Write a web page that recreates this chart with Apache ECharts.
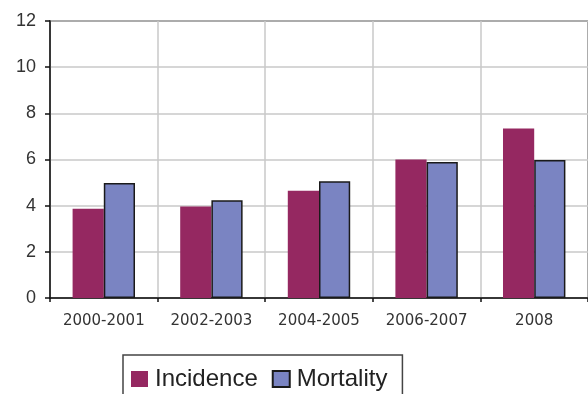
<!DOCTYPE html>
<html>
<head>
<meta charset="utf-8">
<script src="https://cdn.jsdelivr.net/npm/echarts@6/dist/echarts.min.js"></script>
<style>
html,body{margin:0;padding:0;background:#fff;}
#chart{width:588px;height:394px;}
</style>
</head>
<body>
<div id="chart"></div>
<script>
var categories = ['2000-2001', '2002-2003', '2004-2005', '2006-2007', '2008'];
var incidence = [3.87, 3.96, 4.65, 6.0, 7.34];
var mortality = [4.98, 4.23, 5.06, 5.89, 5.98];
var yTicks = { min: 0, max: 12, interval: 2 };

var chart = echarts.init(document.getElementById('chart'), null, { renderer: 'canvas' });
chart.setOption({
  backgroundColor: '#ffffff',
  animation: false,
  grid: {
    left: 50, top: 21, width: 542, height: 277,
    show: true, borderColor: '#222', borderWidth: 1.5, backgroundColor: 'transparent'
  },
  legend: {
    data: ['Incidence', 'Mortality'],
    left: 123, top: 355,
    orient: 'horizontal',
    itemWidth: 17, itemHeight: 16, itemGap: 14,
    padding: [12, 15, 12, 8],
    borderColor: '#444', borderWidth: 1.5,
    backgroundColor: '#fff',
    textStyle: { fontFamily: 'Liberation Sans, Arial', fontSize: 24, color: '#222', padding: [0, 0, 0, 2] },
    icon: 'rect'
  },
  xAxis: {
    type: 'category',
    data: categories,
    boundaryGap: true,
    axisLine: { show: true, lineStyle: { color: '#111', width: 1.5 } },
    axisTick: { show: true, alignWithLabel: false, length: 4, lineStyle: { color: '#111', width: 1.5 } },
    axisLabel: { fontFamily: 'DejaVu Sans', fontSize: 15, color: '#333', margin: 16 },
    splitLine: { show: true, lineStyle: { color: '#c8c8c8', width: 1.5 } }
  },
  yAxis: {
    type: 'value',
    min: yTicks.min, max: yTicks.max, interval: yTicks.interval,
    axisLine: { show: true, lineStyle: { color: '#111', width: 1.5 } },
    axisTick: { show: true, length: 5, lineStyle: { color: '#111', width: 1.5 } },
    axisLabel: { fontFamily: 'Liberation Sans, Arial', fontSize: 18, color: '#333', margin: 14 },
    splitLine: { show: true, lineStyle: { color: '#c8c8c8', width: 1.5 } }
  },
  series: [
    {
      name: 'Incidence', type: 'bar', data: incidence,
      barGap: '0%', barCategoryGap: '42%',
      itemStyle: { color: '#952861', borderWidth: 0 }
    },
    {
      name: 'Mortality', type: 'bar', data: mortality,
      barGap: '0%', barCategoryGap: '42%',
      itemStyle: { color: '#7a84c2', borderColor: '#1a1a1a', borderWidth: 1.5 }
    }
  ]
});
</script>
</body>
</html>
